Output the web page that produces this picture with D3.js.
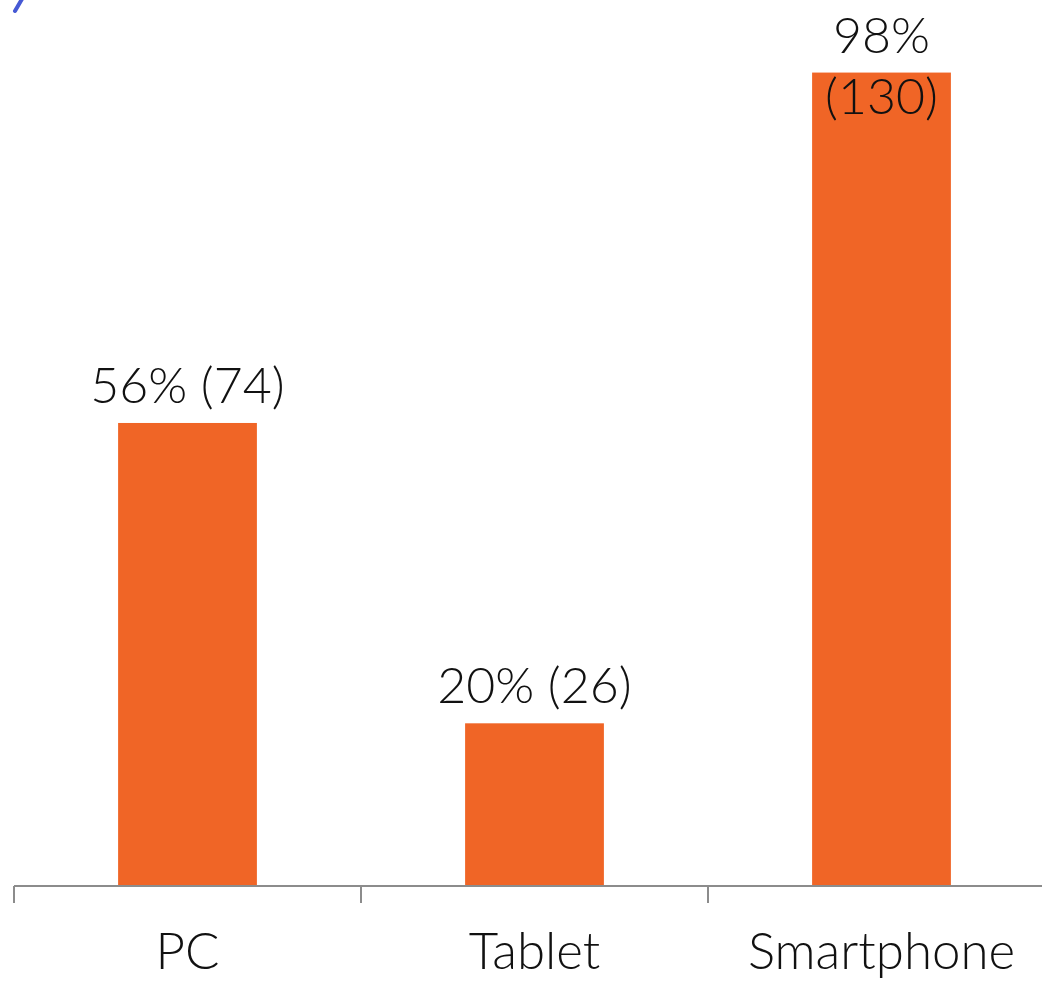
<!DOCTYPE html>
<meta charset="utf-8">
<style>

body {
  margin: 0;
  background: #fff;
}

text {
  font-family: "Lato Light", Lato, "Open Sans", sans-serif;
  font-weight: 300;
  fill: #111;
}

.bar {
  fill: #f06526;
}

.axis line {
  stroke: #8c8c8c;
  stroke-width: 2;
}

</style>
<svg width="1042" height="981"></svg>
<script src="https://cdn.jsdelivr.net/npm/d3@7"></script>
<script>

var categories = ["PC", "Tablet", "Smartphone"];
var counts = [74, 26, 130];
var percents = ["56%", "20%", "98%"];

var svg = d3.select("svg"),
    baseY = 886;

var x = d3.scaleBand()
    .domain(categories)
    .range([14, 1055])
    .padding(0);

var y = d3.scaleLinear()
    .domain([0, 140])
    .range([baseY, 10]);

var barW = x.bandwidth() * 0.4;

// bit of a cut-off title in the top-left corner
svg.append("line")
    .attr("x1", 22).attr("y1", -1)
    .attr("x2", 15).attr("y2", 11)
    .attr("stroke", "#4659d4")
    .attr("stroke-width", 4)
    .attr("stroke-linecap", "round");

svg.selectAll(".bar")
  .data(categories)
  .enter().append("rect")
    .attr("class", "bar")
    .attr("x", function(d) { return x(d) + (x.bandwidth() - barW) / 2; })
    .attr("y", function(d, i) { return y(counts[i]); })
    .attr("width", barW)
    .attr("height", function(d, i) { return baseY - y(counts[i]); });

var axis = svg.append("g").attr("class", "axis");

axis.append("line")
    .attr("x1", x.range()[0]).attr("x2", x.range()[1])
    .attr("y1", baseY).attr("y2", baseY);

// ticks sit between the categories, not under them
axis.selectAll(".tick")
  .data(categories)
  .enter().append("line")
    .attr("x1", function(d) { return x(d); })
    .attr("x2", function(d) { return x(d); })
    .attr("y1", baseY)
    .attr("y2", baseY + 17);

axis.selectAll(".label")
  .data(categories)
  .enter().append("text")
    .attr("x", function(d) { return x(d) + x.bandwidth() / 2; })
    .attr("y", 969)
    .attr("text-anchor", "middle")
    .attr("font-size", 51)
    .text(function(d) { return d; });

var maxCount = d3.max(counts);

var labels = svg.selectAll(".value")
  .data(categories)
  .enter().append("text")
    .attr("class", "value")
    .attr("text-anchor", "middle")
    .attr("font-size", 50)
    .attr("x", function(d) { return x(d) + x.bandwidth() / 2; })
    .attr("y", function(d, i) { return y(counts[i]) - 20; });

labels.each(function(d, i) {
  var t = d3.select(this);
  if (counts[i] === maxCount) {
    // tallest bar: label wraps onto two lines
    t.append("tspan").text(percents[i]);
    t.append("tspan")
        .attr("x", x(d) + x.bandwidth() / 2)
        .attr("dy", 61)
        .text("(" + counts[i] + ")");
  } else {
    t.text(percents[i] + " (" + counts[i] + ")");
  }
});

</script>
